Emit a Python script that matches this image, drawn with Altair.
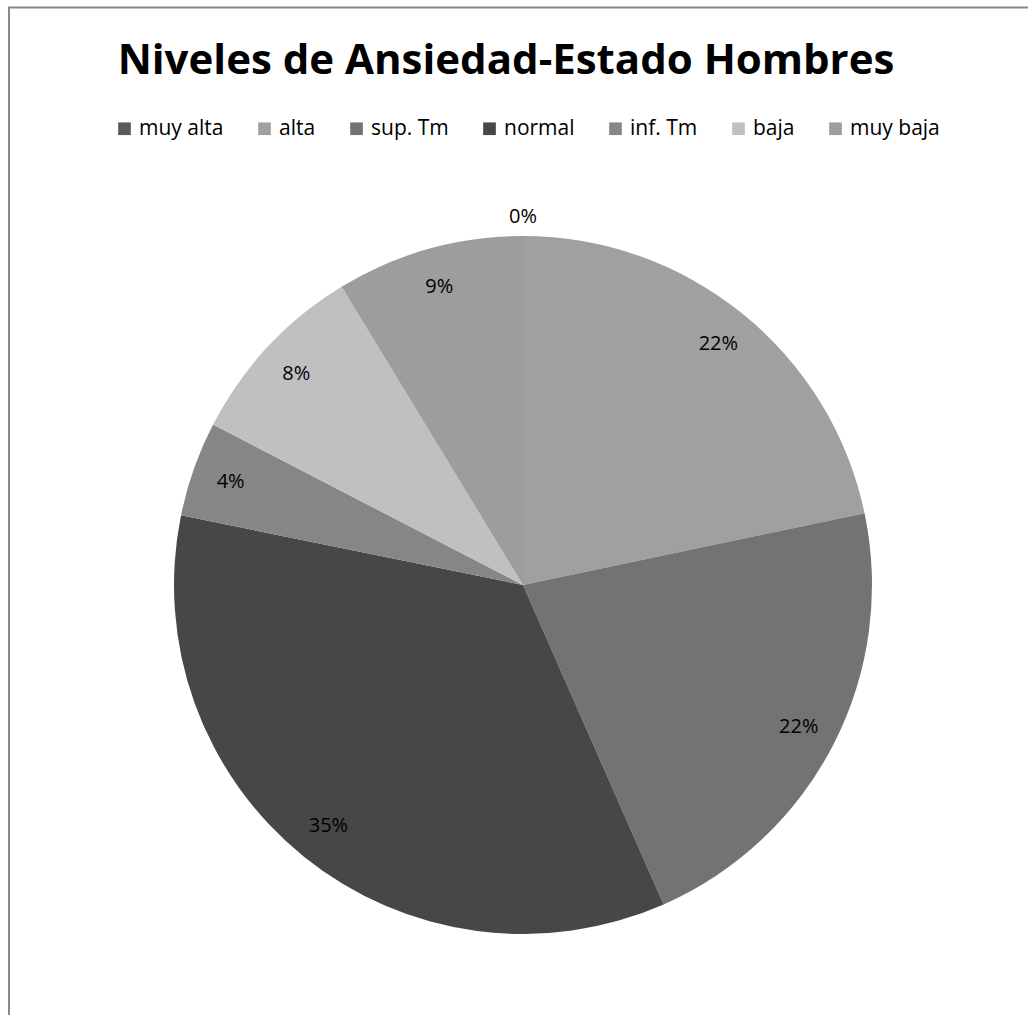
import altair as alt
import pandas as pd

title_text = "Niveles de Ansiedad-Estado Hombres"
categories = ["muy alta", "alta", "sup. Tm", "normal", "inf. Tm", "baja", "muy baja"]
values = [0, 21.7, 21.7, 34.8, 4.4, 8.7, 8.7]
labels = ["0%", "22%", "22%", "35%", "4%", "8%", "9%"]
colors = ["#595959", "#A0A0A0", "#737373", "#474747", "#868686", "#C0C0C0", "#9D9D9D"]

df = pd.DataFrame({
    "cat": categories,
    "value": values,
    "label": labels,
    "idx": list(range(len(categories))),
})

FONT = "Open Sans"
CX, CY, R = 523, 585, 349

base = alt.Chart(df)

pie = base.mark_arc(outerRadius=R, stroke=None).encode(
    theta=alt.Theta("value:Q", stack=True),
    color=alt.Color(
        "cat:N",
        scale=alt.Scale(domain=categories, range=colors),
        legend=alt.Legend(
            title=None,
            orient="none",
            legendX=114,
            legendY=118,
            direction="horizontal",
            symbolType="square",
            symbolSize=160,
            symbolStrokeWidth=0,
            labelFont=FONT,
            labelFontSize=21,
            labelColor="#000000",
            labelOffset=4,
            columnPadding=30,
            padding=0,
        ),
    ),
    order=alt.Order("idx:Q"),
    x=alt.value(CX),
    y=alt.value(CY),
)

text = base.transform_calculate(
    r="datum.value == 0 ? 368 : 310"
).mark_text(font=FONT, fontSize=20, color="#000000", align="center", baseline="middle").encode(
    theta=alt.Theta("value:Q", stack=True),
    radius=alt.Radius("r:Q", scale=None),
    text="label:N",
    order=alt.Order("idx:Q"),
    x=alt.value(CX),
    y=alt.value(CY),
)

title = alt.Chart(pd.DataFrame({"t": [title_text]})).mark_text(
    font=FONT, fontSize=42, fontWeight="bold", color="#000000", align="center", baseline="alphabetic"
).encode(text="t:N", x=alt.value(506), y=alt.value(74))

border = alt.Chart(pd.DataFrame({"k": [0]})).mark_rule(color="#888888", strokeWidth=2)
left_rule = border.encode(x=alt.value(9), y=alt.value(7), y2=alt.value(1015))
top_rule = border.encode(x=alt.value(8), x2=alt.value(1028), y=alt.value(7.5))

chart = alt.layer(pie, text, title, left_rule, top_rule).properties(
    width=1028,
    height=1015,
    padding=0,
    autosize=alt.AutoSizeParams(type="none"),
    background="#FFFFFF",
).configure_view(stroke=None)

chart.save("out.html", embed_options={"renderer": "svg", "actions": False})
